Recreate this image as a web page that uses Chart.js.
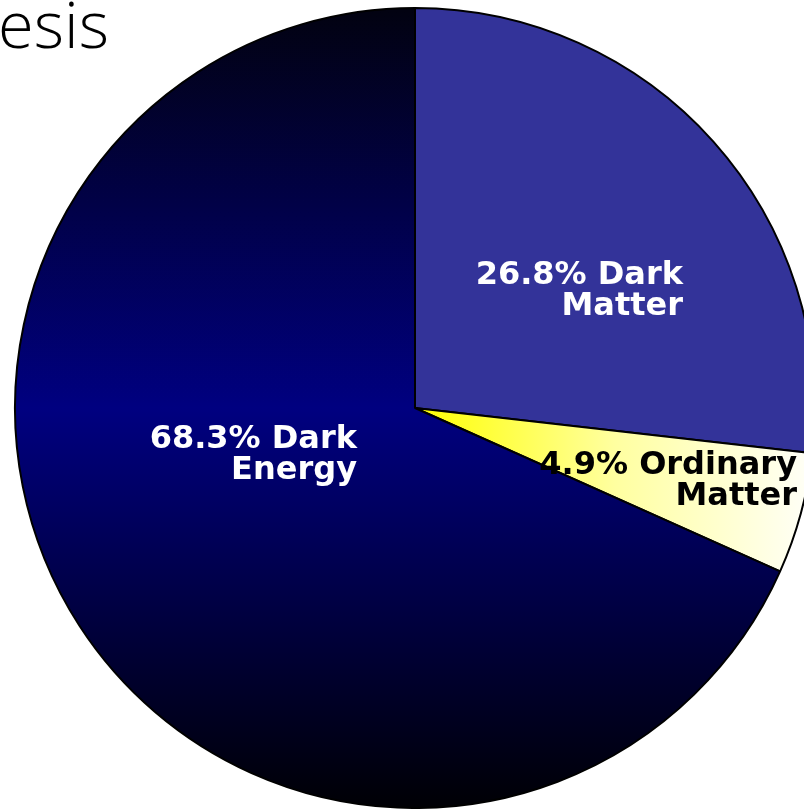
<!DOCTYPE html>
<html>
<head>
<meta charset="utf-8">
<script src="https://cdn.jsdelivr.net/npm/chart.js@4"></script>
<style>
  html, body { margin: 0; padding: 0; background: #fff; overflow: hidden; }
  #wrap { width: 804px; height: 809px; overflow: hidden; position: relative; }
</style>
</head>
<body>
<div id="wrap"><canvas id="chart" width="830" height="809"></canvas></div>
<script>
const categories = ["Dark Matter", "Ordinary Matter", "Dark Energy"];
const shares = [26.8, 4.9, 68.3];
const titleText = "esis";

// where each label block sits, right edge + first baseline, in units of the radius
const labelSpots = [
  { dx: 0.67, dy: -0.31, color: "#fff" },
  { dx: 0.955, dy: 0.165, color: "#000" },
  { dx: -0.145, dy: 0.10, color: "#fff" }
];

function sliceFill(ctx) {
  const chart = ctx.chart;
  const area = chart.chartArea;
  if (!area) return "#333399";
  const c = chart.ctx;
  const cx = (area.left + area.right) / 2;
  const cy = (area.top + area.bottom) / 2;
  const r = Math.min(area.right - area.left, area.bottom - area.top) / 2;
  if (ctx.dataIndex === 0) return "#333399";
  if (ctx.dataIndex === 1) {
    const g = c.createLinearGradient(cx, cy, cx + r, cy);
    g.addColorStop(0, "#ffff00");
    g.addColorStop(0.5, "#ffffa0");
    g.addColorStop(1, "#fffffa");
    return g;
  }
  const g = c.createLinearGradient(cx, cy - r, cx, cy + r);
  g.addColorStop(0, "#020210");
  g.addColorStop(0.5, "#000080");
  g.addColorStop(1, "#000004");
  return g;
}

const sliceLabels = {
  id: "sliceLabels",
  afterDatasetsDraw(chart) {
    const c = chart.ctx;
    const arcs = chart.getDatasetMeta(0).data;
    c.save();
    c.font = "bold 32px 'DejaVu Sans'";
    c.textAlign = "right";
    c.textBaseline = "alphabetic";
    arcs.forEach((arc, i) => {
      const spot = labelSpots[i];
      const r = arc.outerRadius;
      const x = arc.x + spot.dx * r;
      const y = arc.y + spot.dy * r;
      const words = categories[i].split(" ");
      c.fillStyle = spot.color;
      c.fillText(`${shares[i]}% ${words[0]}`, x, y);
      c.fillText(words.slice(1).join(" "), x, y + 31);
    });
    c.restore();
  }
};

const cornerTitle = {
  id: "cornerTitle",
  afterDraw(chart) {
    const c = chart.ctx;
    c.save();
    c.font = "300 65px 'Open Sans'";
    c.fillStyle = "#000";
    c.textAlign = "left";
    c.textBaseline = "alphabetic";
    c.fillText(titleText, -2, 48);
    c.restore();
  }
};

const config = {
  type: "pie",
  data: {
    labels: categories,
    datasets: [
      {
        data: shares,
        backgroundColor: sliceFill,
        borderColor: "#000",
        borderWidth: 2,
        hoverBorderWidth: 2,
        hoverOffset: 0,
        offset: 0,
      },
    ],
  },
  options: {
    responsive: false,
    animation: false,
    events: [],
    layout: {
      padding: { top: 7, bottom: 0, left: 14, right: 14 },
    },
    plugins: {
      legend: { display: false },
      tooltip: { enabled: false },
      title: { display: false },
    },
  },
  plugins: [sliceLabels, cornerTitle],
};

new Chart(document.getElementById("chart"), config);
</script>
</body>
</html>
